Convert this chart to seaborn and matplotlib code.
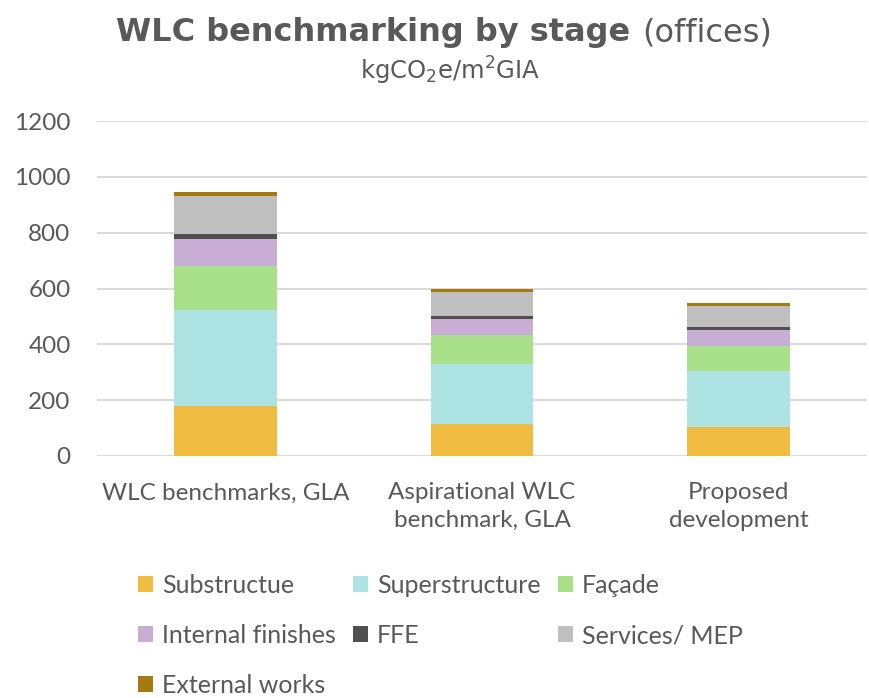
import numpy as np
import pandas as pd
import matplotlib
matplotlib.use("Agg")
import matplotlib.pyplot as plt
import seaborn as sns
from matplotlib.patches import Patch

# -- datos (kgCO2e/m2 GIA)
categorias = ["WLC benchmarks, GLA", "Aspirational WLC\nbenchmark, GLA", "Proposed\ndevelopment"]
etapas = ["Substructue", "Superstructure", "Façade", "Internal finishes",
          "FFE", "Services/ MEP", "External works"]
substructure = [180, 115, 103]
superstructure = [342, 216, 200]
facade = [160, 102, 92]
internal_finishes = [96, 59, 55]
ffe = [18, 11, 11]
services = [134, 85, 78]
external_works = [17, 12, 9]
y_ticks = [0, 200, 400, 600, 800, 1000, 1200]

colores = ["#F0BC42", "#AEE3E3", "#A9E18B", "#C8ADD4", "#505050", "#BFBFBF", "#A57A10"]
gris = "#595959"

valores = [substructure, superstructure, facade, internal_finishes, ffe, services, external_works]
acumulado = np.cumsum(np.array(valores), axis=0)

sns.set_theme(style="white")
plt.rcParams["font.family"] = ["Lato", "DejaVu Sans"]

fig = plt.figure(figsize=(8.69, 6.98), dpi=100)
ax = fig.add_axes([97 / 869, 1 - 456 / 698, 770 / 869, 335 / 698])

# barras apiladas: se dibuja el acumulado de arriba hacia abajo
for i in range(len(etapas) - 1, -1, -1):
    df = pd.DataFrame({"categoria": categorias, "valor": acumulado[i]})
    sns.barplot(data=df, x="categoria", y="valor", color=colores[i], saturation=1,
                width=0.4, linewidth=0, ax=ax, zorder=3)

ax.set_ylim(0, 1200)
ax.set_xlim(-0.5, 2.5)
ax.set_yticks(y_ticks)
ax.set_xlabel("")
ax.set_ylabel("")
ax.grid(axis="y", color="#D9D9D9", linewidth=1.4, zorder=0)
ax.grid(axis="x", visible=False)
for s in ax.spines.values():
    s.set_visible(False)
ax.tick_params(axis="y", length=0, pad=19, labelsize=17.5, labelcolor=gris)
ax.tick_params(axis="x", length=0, pad=19, labelsize=17.5, labelcolor=gris)
for t in ax.get_xticklabels():
    t.set_linespacing(1.4)

# titulo: parte en negrita y parte normal
y_tit = 1 - 33 / 698
t1 = fig.text(116 / 869, y_tit, "WLC benchmarking by stage", ha="left", va="center",
              fontsize=23, fontweight="bold", color=gris, family=["DejaVu Sans"])
fig.canvas.draw()
bb = t1.get_window_extent()
fig.text((bb.x1 + 12) / 869, y_tit, "(offices)", ha="left", va="center",
         fontsize=23, color=gris, family=["DejaVu Sans"])
fig.text(450 / 869, 1 - 71 / 698, "kgCO$_2$e/m$^2$GIA", ha="center", va="center",
         fontsize=17.5, color=gris, family=["DejaVu Sans"])

# leyenda (orden por columnas para imitar el orden por filas)
orden = [0, 3, 6, 1, 4, 2, 5]
handles = [Patch(facecolor=colores[i], edgecolor="none", label=etapas[i]) for i in orden]
leg = fig.legend(handles=handles, loc="upper left", bbox_to_anchor=(138 / 869, 1 - 574 / 698),
                 ncol=3, frameon=False, fontsize=18, handlelength=0.6, handleheight=0.6,
                 handletextpad=0.35, columnspacing=0.7, labelspacing=1.08, borderpad=0,
                 borderaxespad=0)
for t in leg.get_texts():
    t.set_color(gris)

fig.savefig("out.png", dpi=100)
